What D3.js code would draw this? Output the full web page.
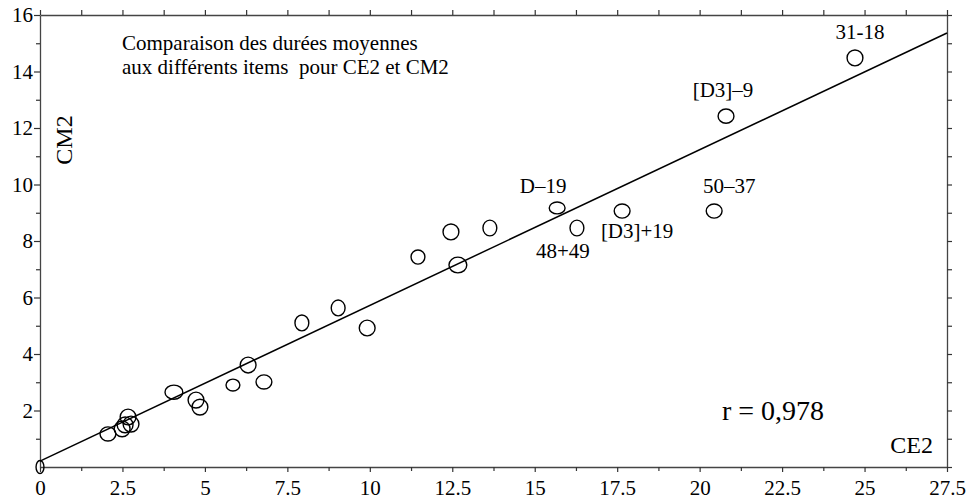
<!DOCTYPE html>
<html>
<head>
<meta charset="utf-8">
<title>CE2 / CM2</title>
<script src="https://d3js.org/d3.v7.min.js"></script>
<style>
body { margin: 0; background: #fff; }
svg text { fill: #000; }
.domain { stroke: #444; stroke-width: 1.3; }
.tick line { stroke: #333; stroke-width: 1.2; }
</style>
</head>
<body>
<script>
// mean durations per item, CE2 (x) vs CM2 (y)
var ce2 = [0, 2.06, 2.67, 2.49, 2.76, 2.58, 4.06, 4.73, 4.85, 5.85, 6.31, 6.79, 7.94, 9.04, 9.92,
           11.46, 12.46, 13.64, 12.67, 15.68, 16.28, 17.65, 20.44, 20.80, 24.71];
var cm2 = [0, 1.17, 1.77, 1.35, 1.52, 1.49, 2.65, 2.37, 2.12, 2.90, 3.61, 3.01, 5.10, 5.63, 4.92,
           7.43, 8.32, 8.46, 7.15, 9.17, 8.46, 9.06, 9.06, 12.42, 14.48];
// half-spread of each ellipse, in axis units
var spreadCE2 = [0.12, 0.24, 0.24, 0.24, 0.24, 0.24, 0.27, 0.24, 0.24, 0.21, 0.24, 0.24, 0.21, 0.21, 0.24,
                 0.21, 0.24, 0.21, 0.27, 0.24, 0.21, 0.24, 0.24, 0.24, 0.24];
var spreadCM2 = [0.23, 0.25, 0.28, 0.28, 0.28, 0.28, 0.25, 0.28, 0.28, 0.21, 0.28, 0.25, 0.28, 0.28, 0.28,
                 0.25, 0.28, 0.28, 0.28, 0.21, 0.28, 0.25, 0.25, 0.25, 0.28];
var itemNames = ["", "", "", "", "", "", "", "", "", "", "", "", "", "", "",
                 "", "", "", "", "D\u201319", "48+49", "[D3]+19", "50\u201337", "[D3]\u20139", "31-18"];
var xTicks = [0, 2.5, 5, 7.5, 10, 12.5, 15, 17.5, 20, 22.5, 25, 27.5];
var yTicks = [2, 4, 6, 8, 10, 12, 14, 16];
var fitIntercept = 0.21;
var fitSlope = 0.551;
var titleLines = ["Comparaison des dur\u00e9es moyennes", "aux diff\u00e9rents items  pour CE2 et CM2"];
var rText = "r = 0,978";

var serif = "'Liberation Serif', Tinos, 'Times New Roman', Times, 'Nimbus Roman', 'Noto Serif', 'DejaVu Serif', FreeSerif, serif";
var width = 969, height = 504;
var svg = d3.select("body").append("svg")
  .attr("width", width)
  .attr("height", height)
  .style("font-family", serif);

var x = d3.scaleLinear().domain([0, 27.5]).range([40, 947]);
var y = d3.scaleLinear().domain([0, 16]).range([467, 15]);

var xMinor = xTicks.slice(1).map(function(d) { return d - 1.25; });
var yMinor = d3.range(1, 16, 2);
var yAll = d3.range(0, 17, 1);

function serifText(g) {
  g.attr("font-family", null);
  g.selectAll("text").attr("font-size", 21).style("font-family", serif);
}

// bottom axis
svg.append("g").attr("transform", "translate(0," + y(0) + ")")
  .call(d3.axisBottom(x).tickValues(xTicks).tickSize(5).tickSizeOuter(0).tickPadding(8)
    .tickFormat(function(d) { return String(d); }))
  .call(serifText);
svg.append("g").attr("transform", "translate(0," + y(0) + ")")
  .call(d3.axisBottom(x).tickValues(xMinor).tickSize(4).tickSizeOuter(0).tickFormat(""))
  .select(".domain").remove();

// left axis
svg.append("g").attr("transform", "translate(" + x(0) + ",0)")
  .call(d3.axisLeft(y).tickValues(yTicks).tickSize(6).tickSizeOuter(0).tickPadding(1))
  .call(serifText);
svg.append("g").attr("transform", "translate(" + x(0) + ",0)")
  .call(d3.axisLeft(y).tickValues(yMinor).tickSize(4).tickSizeOuter(0).tickFormat(""))
  .select(".domain").remove();

// top and right frame ticks
svg.append("g").attr("transform", "translate(0," + y(16) + ")")
  .call(d3.axisTop(x).tickValues(xTicks.concat(xMinor)).tickSize(5).tickSizeOuter(0).tickFormat(""));
svg.append("g").attr("transform", "translate(" + x(27.5) + ",0)")
  .call(d3.axisRight(y).tickValues(yAll).tickSize(5).tickSizeOuter(0).tickFormat(""));

// regression line
svg.append("line")
  .attr("x1", x(0)).attr("y1", y(fitIntercept))
  .attr("x2", x(27.5)).attr("y2", y(fitIntercept + fitSlope * 27.5))
  .attr("stroke", "#000").attr("stroke-width", 1.5);

// points as ellipses
var pts = ce2.map(function(d, i) {
  return { x: d, y: cm2[i], sx: spreadCE2[i], sy: spreadCM2[i], name: itemNames[i] };
});
svg.append("g").selectAll("ellipse")
  .data(pts).enter().append("ellipse")
  .attr("cx", function(d) { return x(d.x); })
  .attr("cy", function(d) { return y(d.y); })
  .attr("rx", function(d) { return x(d.sx) - x(0); })
  .attr("ry", function(d) { return y(0) - y(d.sy); })
  .attr("fill", "none")
  .attr("stroke", "#000")
  .attr("stroke-width", 1.4);

// item labels, offset from their ellipse
var labelOffset = {
  "D\u201319": [-14, -15], "48+49": [-14, 30], "[D3]+19": [15, 27],
  "50\u201337": [15, -18], "[D3]\u20139": [-3, -19], "31-18": [5, -19]
};
svg.append("g").selectAll("text")
  .data(pts.filter(function(d) { return d.name; }))
  .enter().append("text")
  .attr("x", function(d) { return x(d.x) + labelOffset[d.name][0]; })
  .attr("y", function(d) { return y(d.y) + labelOffset[d.name][1]; })
  .attr("text-anchor", "middle")
  .attr("font-size", 21)
  .text(function(d) { return d.name; });

// title
svg.append("g").selectAll("text")
  .data(titleLines).enter().append("text")
  .attr("x", 122)
  .attr("y", function(d, i) { return 50 + i * 24; })
  .attr("font-size", 21)
  .style("white-space", "pre")
  .text(function(d) { return d; });

// axis names and r
svg.append("text").attr("x", 933).attr("y", 453).attr("text-anchor", "end")
  .attr("font-size", 24).text("CE2");
svg.append("text").attr("transform", "translate(72,140) rotate(-90)").attr("text-anchor", "middle")
  .attr("font-size", 24).text("CM2");
svg.append("text").attr("x", 722).attr("y", 420)
  .attr("font-size", 28).text(rText);
</script>
</body>
</html>
